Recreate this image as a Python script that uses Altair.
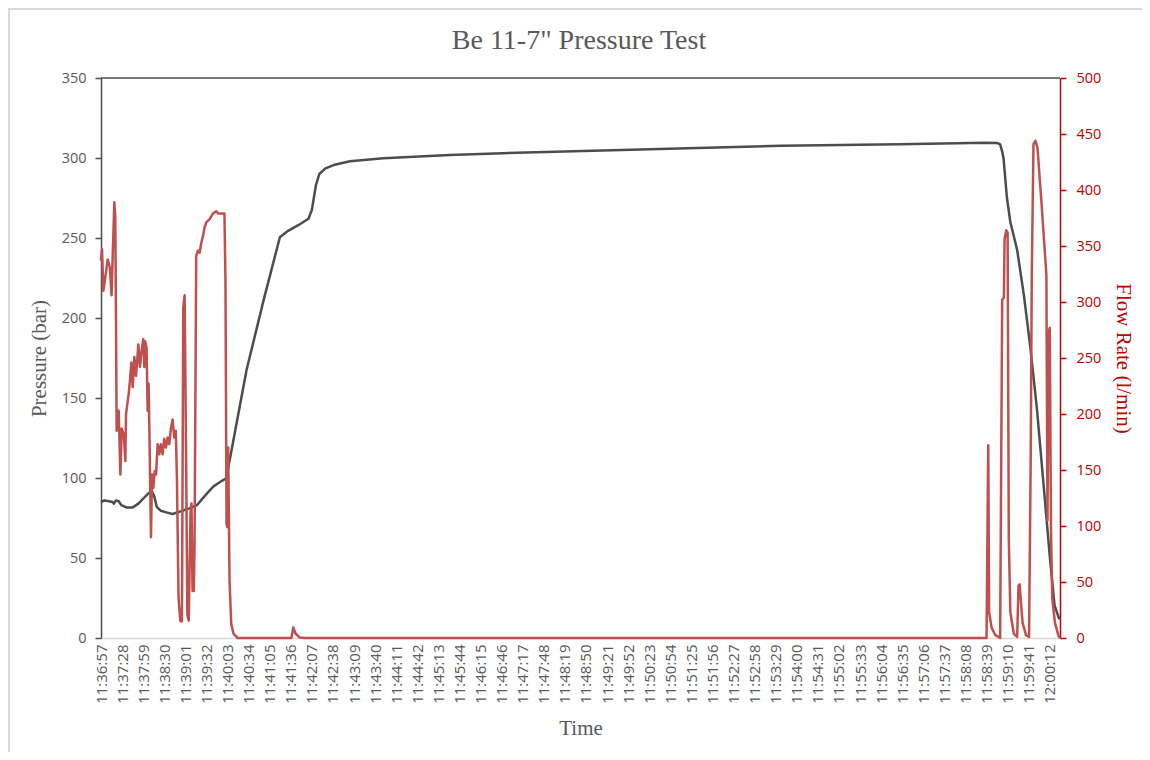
import altair as alt
import pandas as pd

# ---- data (seconds after 11:36:57) ----
p_time = [0, 5, 12, 17, 19, 22, 26, 30, 38, 46, 55, 63, 70, 75, 78, 82, 88, 96, 105, 116,
          130, 141, 153, 165, 175, 184, 190, 214, 239, 263, 275, 290, 305, 310, 316, 321,
          330, 342, 366, 415, 513, 611, 807, 1000, 1174, 1300, 1318, 1322, 1325, 1327,
          1332, 1337, 1347, 1357, 1366, 1376, 1386, 1395, 1402, 1409]
p_bar = [85, 86, 85.5, 85, 84, 86, 85.5, 83, 81.5, 81.5, 84, 87.5, 90.5, 91.5, 89, 82,
         79.5, 78.5, 77.5, 79, 81, 83, 89, 94.6, 97.5, 99.8, 113, 167.5, 211, 250.5, 254.5,
         258, 262, 267.5, 283, 290, 293.5, 295.6, 298, 299.8, 301.9, 303.3, 305.4, 307.6,
         308.6, 309.5, 309.3, 308.5, 304, 299.7, 275, 260, 242.5, 214, 183, 143.6, 95, 51,
         20.4, 11.6]

f_time = [0, 1.5, 3.5, 6.4, 9.8, 13, 15.5, 17, 19.6, 21, 22, 23, 26, 28.5, 30.4, 33.4,
          35.8, 36.8, 40.7, 42.6, 44.6, 46.6, 49, 51.5, 54.9, 57.3, 59.8, 62.2, 63.7, 65,
          67, 68.6, 70, 71, 73.5, 75, 77, 79, 81, 83.3, 85.7, 88, 90.6, 93, 95.5, 98, 100.4,
          102.8, 105.3, 107.7, 110, 111.7, 114, 116.6, 119, 121, 123, 125, 127, 129, 131.6,
          133, 134.6, 136.5, 137.5, 140, 142.5, 145, 147.5, 150, 152.4, 154.8, 159.7, 164.6,
          169.5, 172, 177, 181.5, 183, 184.6, 185.6, 187, 189, 191.5, 195, 201, 280, 282.7,
          286, 292, 300, 1302, 1304.5, 1305.8, 1309.5, 1315, 1322, 1325, 1327.5, 1328.5,
          1331, 1333, 1334.7, 1337, 1342, 1347, 1349, 1350.6, 1355, 1360, 1364.5, 1367,
          1368.5, 1371, 1374, 1377, 1383, 1390, 1391.6, 1393.5, 1395, 1396.7, 1398.6,
          1402.6, 1407.5, 1409.5]
f_lpm = [337, 347, 310, 322, 338, 331, 306, 337, 389, 376, 289, 185, 203, 146, 187, 182,
         158, 200, 218, 230, 246, 224, 251, 234, 262, 242, 257, 267, 242, 265,
         259, 203, 227, 191, 90, 146, 134, 149, 146, 173, 164, 173, 164, 178, 170, 179, 173,
         187, 195, 179, 185, 140, 36, 15, 15, 295, 306, 170, 21, 15.5, 111,
         120, 42, 42, 81, 341, 346, 344, 353, 359, 367, 371, 374, 379,
         381, 379, 379, 379, 319, 102, 99, 170, 51, 12.5, 3.6, 0, 0, 9.5,
         4, 0.5, 0, 0, 172, 23, 9, 2.5, 0, 302, 304, 356,
         364, 362, 89, 23, 4, 1, 46.5, 48, 13.5, 2.5, 1, 167,
         324, 441, 444, 437, 387, 324, 105, 274, 277, 98, 35.5,
         13.5, 2.5, 0]

x_ticks = list(range(0, 1396, 31))
p_ticks = list(range(0, 351, 50))
f_ticks = list(range(0, 501, 50))
chart_title = 'Be 11-7" Pressure Test'

GRAY = "#595959"
RED = "#C00000"
SERIF = "Liberation Serif"
SANS = "Open Sans"

W, H = 959, 560
PL, PT, PR, PB = 93, 70, 82, 114

pdf = pd.DataFrame({"t": p_time, "p": p_bar})
fdf = pd.DataFrame({"t": f_time, "f": f_lpm})
one = pd.DataFrame({"a": [0]})
tdf = pd.DataFrame({"label": [chart_title]})

x_axis = alt.Axis(
    values=x_ticks,
    labelExpr="timeFormat(datetime(2020,0,1,11,36,57+datum.value),'%H:%M:%S')",
    labelAngle=270,
    labelOverlap=False,
    labelFlush=False,
    labelBound=False,
    labelFont=SANS,
    labelFontSize=15,
    labelColor=GRAY,
    labelPadding=6,
    ticks=False,
    domainColor="#d9d9d9",
    domainWidth=1.5,
    grid=False,
    title="Time",
    titleFont=SERIF,
    titleFontSize=21,
    titleFontWeight="normal",
    titleColor=GRAY,
    titlePadding=14,
)


def x_enc():
    return alt.X("t:Q", scale=alt.Scale(domain=[0, 1410], nice=False, zero=False), axis=x_axis)


pressure = alt.Chart(pdf).mark_line(color="#4d4d4d", strokeWidth=2.5, strokeJoin="round").encode(
    x=x_enc(),
    y=alt.Y(
        "p:Q",
        scale=alt.Scale(domain=[0, 350], nice=False),
        axis=alt.Axis(
            orient="left",
            values=p_ticks,
            grid=False,
            domainColor="#4d4d4d",
            domainWidth=1.5,
            tickColor="#4d4d4d",
            tickWidth=1.5,
            tickSize=6,
            labelPadding=9,
            labelFont=SANS,
            labelFontSize=14.5,
            labelColor=GRAY,
            title="Pressure (bar)",
            titleFont=SERIF,
            titleFontSize=21,
            titleFontWeight="normal",
            titleColor=GRAY,
            titlePadding=12,
        ),
    ),
)

flow = alt.Chart(fdf).mark_line(color="#C0504D", strokeWidth=2.5, strokeJoin="round").encode(
    x=x_enc(),
    y=alt.Y(
        "f:Q",
        scale=alt.Scale(domain=[0, 500], nice=False),
        axis=alt.Axis(
            orient="right",
            values=f_ticks,
            grid=False,
            domainColor=RED,
            domainWidth=1.5,
            tickColor=RED,
            tickWidth=1.5,
            tickSize=6,
            labelPadding=10,
            labelFont=SANS,
            labelFontSize=14.5,
            labelColor=RED,
            title="Flow Rate (l/min)",
            titleFont=SERIF,
            titleFontSize=21,
            titleFontWeight="normal",
            titleColor=RED,
            titlePadding=12,
        ),
    ),
)

top_line = alt.Chart(one).mark_rule(color="#4d4d4d", strokeWidth=1.5).encode(
    x=alt.value(0), x2=alt.value(W), y=alt.value(0)
)
frame_top = alt.Chart(one).mark_rule(color="#d9d9d9", strokeWidth=2).encode(
    x=alt.value(-PL), x2=alt.value(W + PR), y=alt.value(-PT + 1)
)
frame_left = alt.Chart(one).mark_rule(color="#d9d9d9", strokeWidth=2).encode(
    x=alt.value(-PL + 1), y=alt.value(-PT), y2=alt.value(H + PB)
)
title_text = alt.Chart(tdf).mark_text(
    font=SERIF, fontSize=28, color=GRAY, align="center", baseline="alphabetic"
).encode(x=alt.value(W / 2 - 1.5), y=alt.value(-29), text="label:N")

chart = (
    alt.layer(pressure, flow, top_line, frame_top, frame_left, title_text)
    .resolve_scale(y="independent")
    .properties(
        width=W,
        height=H,
        autosize=alt.AutoSizeParams(type="none"),
        padding={"left": PL, "top": PT, "right": PR, "bottom": PB},
    )
    .configure_view(stroke=None)
)

chart.save("out.html", embed_options={"renderer": "svg", "actions": False})
